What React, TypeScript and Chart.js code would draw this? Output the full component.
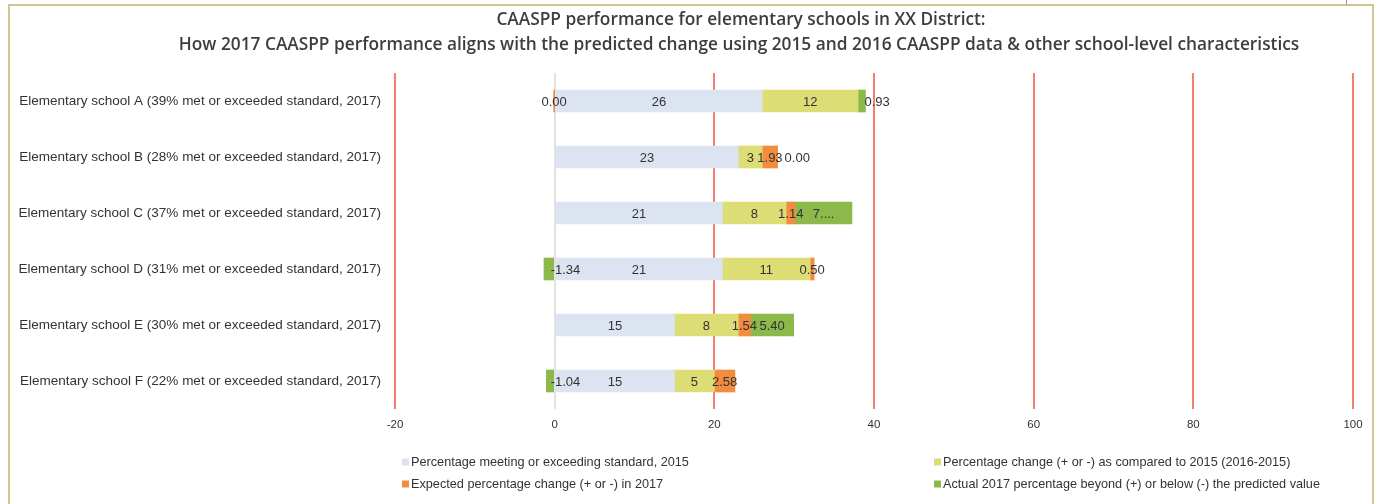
import React, { useEffect, useRef } from "react";
import { Chart, registerables } from "chart.js";

Chart.register(...registerables);

const titleLines = [
  "CAASPP performance for elementary schools in XX District:",
  "How 2017 CAASPP performance aligns with the predicted change using 2015 and 2016 CAASPP data & other school-level characteristics",
];

const categories = [
  "Elementary school A (39% met or exceeded standard, 2017)",
  "Elementary school B (28% met or exceeded standard, 2017)",
  "Elementary school C (37% met or exceeded standard, 2017)",
  "Elementary school D (31% met or exceeded standard, 2017)",
  "Elementary school E (30% met or exceeded standard, 2017)",
  "Elementary school F (22% met or exceeded standard, 2017)",
];

const seriesNames = [
  "Percentage meeting or exceeding standard, 2015",
  "Percentage change (+ or -) as compared to 2015 (2016-2015)",
  "Expected percentage change (+ or -) in 2017",
  "Actual 2017 percentage beyond (+) or below (-) the predicted value",
];

const met2015 = [26, 23, 21, 21, 15, 15];
const change2016 = [12, 3, 8, 11, 8, 5];
const expected2017 = [-0.000001, 1.93, 1.14, 0.5, 1.54, 2.58];
const actualBeyond = [0.93, 0, 7.1, -1.34, 5.4, -1.04];

const met2015Labels = ["26", "23", "21", "21", "15", "15"];
const change2016Labels = ["12", "3", "8", "11", "8", "5"];
const expected2017Labels = ["0.00", "1.93", "1.14", "0.50", "1.54", "2.58"];
const actualBeyondLabels = ["0.93", "0.00", "7....", "-1.34", "5.40", "-1.04"];

const xMin = -20;
const xMax = 100;
const xStep = 20;

const seriesColors = ["#dbe4f0", "#dcdd74", "#f28c3e", "#8cb84c"];
const SANS = "'Liberation Sans', Arial, sans-serif";

const labelPlugin = {
  id: "segmentLabels",
  afterDatasetsDraw(chart: any) {
    const ctx = chart.ctx;
    const labelSets = [met2015Labels, change2016Labels, expected2017Labels, actualBeyondLabels];
    const valueSets = [met2015, change2016, expected2017, actualBeyond];
    const lastDs = labelSets.length - 1;
    ctx.save();
    ctx.font = `13px ${SANS}`;
    ctx.fillStyle = "#333333";
    ctx.textAlign = "left";
    ctx.textBaseline = "middle";
    const n = categories.length;
    for (let i = 0; i < n; i++) {
      let prevEnd = -Infinity;
      for (let di = 0; di < labelSets.length; di++) {
        const el: any = chart.getDatasetMeta(di).data[i];
        const text = labelSets[di][i];
        const negative = valueSets[di][i] < 0;
        const w = ctx.measureText(text).width;
        const lo = Math.min(el.x, el.base);
        const hi = Math.max(el.x, el.base);
        let start = (lo + hi) / 2 - w / 2;
        if (di === lastDs && w > hi - lo) {
          start = hi - (negative ? 3 : 1);
        }
        if (!negative) {
          if (di === lastDs && start < prevEnd + 1) start = prevEnd + 2;
          if (start + w > prevEnd) prevEnd = start + w;
        }
        ctx.fillText(text, start, el.y + 1);
      }
    }
    ctx.restore();
  },
};

const decorPlugin = {
  id: "decor",
  afterDraw(chart: any) {
    const ctx = chart.ctx;
    ctx.save();
    ctx.fillStyle = "#3d3d3d";
    ctx.textAlign = "center";
    ctx.textBaseline = "middle";
    ctx.font = "600 17.3px 'Open Sans', sans-serif";
    ctx.fillText(titleLines[0], 741, 20);
    ctx.fillText(titleLines[1], 739, 45);
    ctx.font = `12.7px ${SANS}`;
    ctx.textAlign = "left";
    const pos = [
      [402, 462],
      [934, 462],
      [402, 484],
      [934, 484],
    ];
    chart.data.datasets.forEach((ds: any, i: number) => {
      const [lx, ly] = pos[i];
      ctx.fillStyle = ds.backgroundColor;
      ctx.fillRect(lx, ly - 3.5, 7, 7);
      ctx.fillStyle = "#333333";
      ctx.fillText(ds.label, lx + 9, ly + 0.5);
    });
    ctx.restore();
  },
};

export default function App() {
  const canvasRef = useRef<HTMLCanvasElement | null>(null);

  useEffect(() => {
    const canvas = canvasRef.current;
    if (!canvas) return;
    const datasets = [met2015, change2016, expected2017, actualBeyond].map((d, i) => ({
      label: seriesNames[i],
      data: d,
      backgroundColor: seriesColors[i],
      borderWidth: 0,
      barThickness: 22,
    }));
    const chart = new Chart(canvas, {
      type: "bar",
      data: { labels: categories, datasets },
      options: {
        indexAxis: "y",
        responsive: false,
        animation: false,
        devicePixelRatio: 1,
        layout: { padding: { top: 73, right: 23, left: 0, bottom: 0 } },
        plugins: {
          legend: { display: false },
          title: { display: false },
          tooltip: { enabled: false },
        },
        scales: {
          x: {
            stacked: true,
            min: xMin,
            max: xMax,
            ticks: {
              stepSize: xStep,
              padding: 9,
              color: "#333333",
              font: { family: SANS, size: 11.5 },
            },
            grid: {
              drawTicks: false,
              lineWidth: 2,
              color: (c: any) => (c.tick && c.tick.value === 0 ? "#e2e2e2" : "#f47e72"),
            },
            border: { display: false },
            afterFit: (s: any) => {
              s.height = 95;
            },
          },
          y: {
            stacked: true,
            ticks: {
              padding: 14,
              color: "#333333",
              font: { family: SANS, size: 13.5 },
            },
            grid: { display: false, drawTicks: false },
            border: { display: false },
            afterFit: (s: any) => {
              s.width = 395;
            },
          },
        },
      },
      plugins: [labelPlugin, decorPlugin],
    });
    return () => chart.destroy();
  }, []);

  return (
    <div style={{ position: "fixed", left: 0, top: 0, width: 1376, height: 504, background: "#fff" }}>
      <canvas ref={canvasRef} width={1376} height={504} style={{ display: "block" }} />
      <div
        style={{
          position: "absolute",
          left: 8,
          top: 4,
          width: 1362,
          height: 520,
          borderTop: "2px solid #d3c68c",
          borderLeft: "2px solid #d3c68c",
          borderRight: "2px solid #d3c68c",
          pointerEvents: "none",
        }}
      />
      <div style={{ position: "absolute", left: 1346, top: 0, width: 1, height: 5, background: "#9a9a9a" }} />
    </div>
  );
}
